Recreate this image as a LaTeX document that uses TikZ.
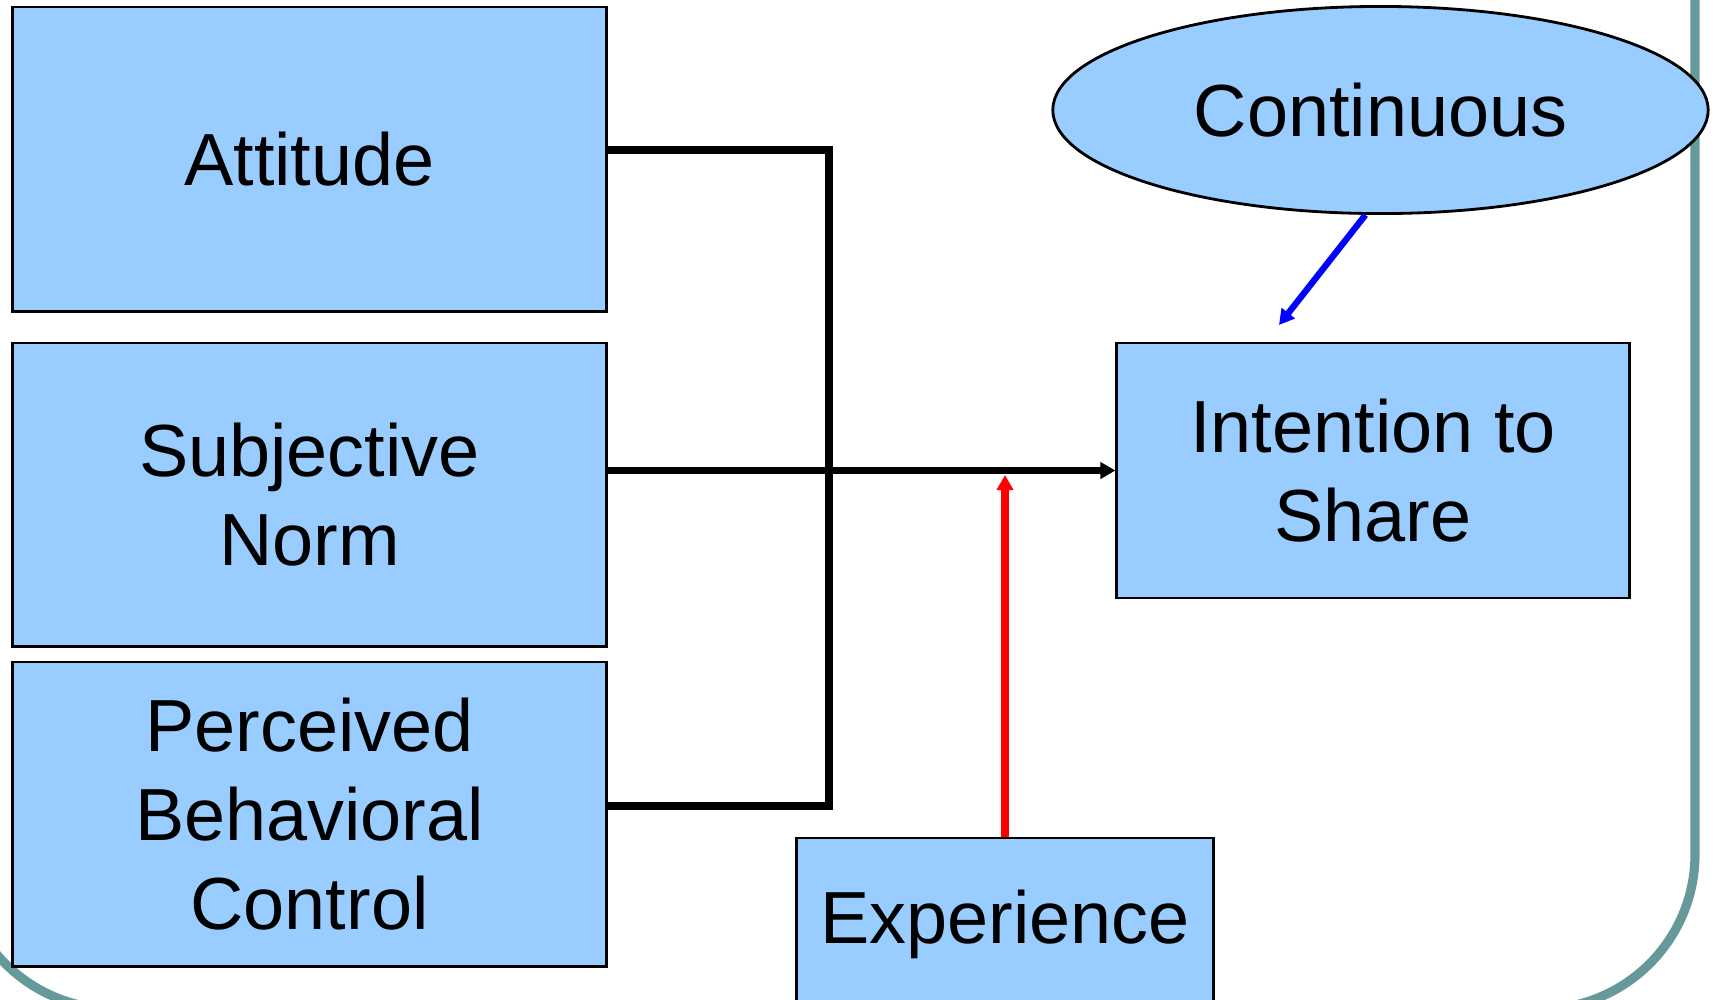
\documentclass[tikz,border=0pt]{standalone}
\usepackage{fontspec}
\setmainfont{Liberation Sans}
\usetikzlibrary{arrows.meta,shapes.geometric,calc}
\definecolor{boxblue}{HTML}{99CCFF}
\definecolor{frameteal}{HTML}{669999}
\begin{document}
\begin{tikzpicture}[x=0.01cm,y=-0.01cm,
  box/.style={draw=black,line width=0.8pt,fill=boxblue,align=center,inner sep=0pt,
              font=\fontsize{21}{25.3}\selectfont},
  link/.style={line width=2pt},
  tip/.style={-{Triangle[length=4.3pt,width=4.6pt]}}]
\clip (0,0) rectangle (1717,999);
% slide frame
\draw[frameteal,line width=2.6pt,rounded corners=44pt] (-40,-300) rectangle (1695,1009);
% predictors
\node[box,minimum width=5.93cm,minimum height=3.04cm] (att) at (309.5,159) {Attitude};
\node[box,minimum width=5.93cm,minimum height=3.03cm] (sn) at (309.5,494.5) {Subjective\\Norm};
\node[box,minimum width=5.93cm,minimum height=3.04cm] (pbc) at (309.5,814) {Perceived\\Behavioral\\Control};
% outcome and moderators
\node[box,minimum width=5.12cm,minimum height=2.55cm] (int) at (1373,470.5) {Intention to\\Share};
\node[box,minimum width=4.16cm,minimum height=1.72cm] (exp) at (1005,924) {Experience};
\node[box,ellipse,minimum width=6.55cm,minimum height=2.07cm] (cont) at (1380.5,110) {Continuous};
% bracket joining the three predictors
\coordinate (jt) at (829,150);
\coordinate (jb) at (829,806);
\draw[link] (att.east |- jt) -- (jt);
\draw[line width=2.4pt] ([yshift=1pt]jt) -- ([yshift=-1pt]jb);
\draw[link] (jb) -- (pbc.east |- jb);
% main path into intention
\draw[link,tip] (sn.east |- int.west) -- (int.west);
% moderators
\coordinate (rt) at (1005,475);
\draw[red,line width=2pt,tip] (exp.north) -- (rt);
\coordinate (bt) at (1279,325);
\draw[blue,line width=1.8pt,tip] ([xshift=-4.3pt]cont.south) -- (bt);
\end{tikzpicture}
\end{document}
